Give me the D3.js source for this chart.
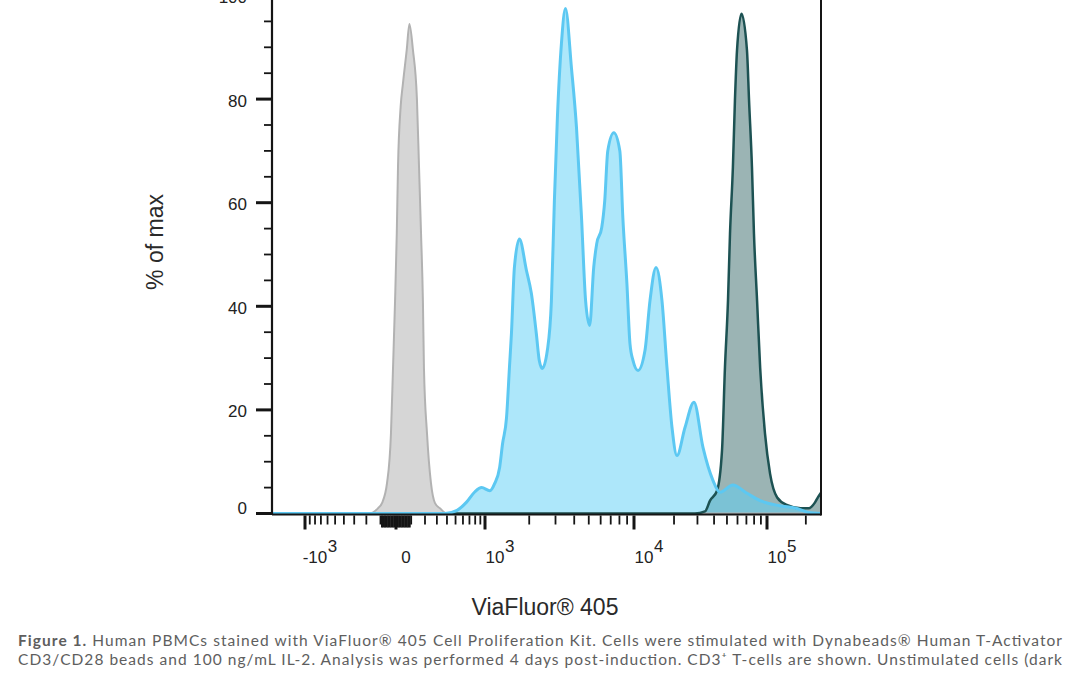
<!DOCTYPE html>
<html>
<head>
<meta charset="utf-8">
<script src="https://cdn.jsdelivr.net/npm/d3@7"></script>
<style>
  html, body { margin: 0; padding: 0; background: #ffffff; }
  svg { display: block; }
</style>
</head>
<body>
<script>
// ---------------- DATA ----------------
// Fluorescence (ViaFluor 405) values and % of max for each histogram
const grayX = [-2040, -180, -117, -90, -57, -32, -19, -6, 5, 13, 30, 45, 70, 88, 112, 140, 155, 170, 184, 192, 216, 248, 283, 329, 400, 262144];
const grayY = [0, 0, 1, 2, 5.9, 15.4, 28, 41, 54, 67, 78.5, 83, 89.5, 94.5, 89.5, 80, 67, 54, 41, 28, 15.4, 5.9, 2, 1, 0, 0];

const blueX = [-2040, 381, 519, 654, 795, 927, 1080, 1167, 1261, 1321, 1405, 1471, 1517, 1589, 1718, 1913, 2067, 2233, 2338, 2448, 2646, 2816, 2949, 3088, 3286, 3497, 3834, 4142, 4474, 4762, 5068, 5394, 5649, 6100, 6388, 6690, 7340, 8050, 8430, 8970, 9400, 9855, 10720, 12100, 13190, 14640, 16230, 17700, 19310, 21050, 24180, 28240, 33050, 39220, 44300, 55400, 70700, 88800, 125200, 168000, 210000, 262144];
const blueY = [0, 0, 0.6, 2.2, 4.2, 5.0, 4.4, 5.8, 8.9, 13.5, 18.5, 28.2, 34.7, 47.5, 53, 47, 42.5, 34.7, 29.5, 28, 31.5, 41, 60.4, 76.4, 90.7, 97.5, 86, 74.5, 57.1, 41.1, 36.3, 47.5, 52.1, 55.2, 60.4, 70, 73.5, 70, 57.1, 44.4, 32.8, 29.5, 27.6, 31.5, 41.1, 47.5, 41.1, 28.2, 16.6, 11.2, 16.6, 21.5, 12.7, 6.4, 4.1, 5.5, 3.9, 2.5, 1.5, 1, 0.2, 0];

const tealX = [-2040, 28700, 34200, 37300, 42100, 45900, 48300, 50900, 52700, 55400, 57400, 59500, 64300, 70700, 73300, 77100, 79800, 84200, 88800, 96600, 105600, 119900, 143900, 182300, 210800, 235000, 248000, 262144];
const tealY = [0, 0, 0.4, 2.5, 4.4, 12.2, 28.2, 41.1, 54, 66.8, 79.7, 89.4, 96.5, 89.4, 79.7, 66.8, 54, 41.1, 28.2, 15.4, 7.7, 3.1, 1.6, 1, 1, 2.1, 3.1, 4];

// Axis ticks
const yMajorTicks = [0, 20, 40, 60, 80, 100];
const xMajorTicks = [-1000, 0, 1000, 10000, 100000];
const xTickBase = ["-10", "0", "10", "10", "10"];
const xTickExp = ["3", "", "3", "4", "5"];

const xTitle = "ViaFluor® 405";
const yTitle = "% of max";
const captionBold = "Figure 1.";
const captionLine1 = " Human PBMCs stained with ViaFluor® 405 Cell Proliferation Kit. Cells were stimulated with Dynabeads® Human T-Activator";
const captionLine2 = "CD3/CD28 beads and 100 ng/mL IL-2. Analysis was performed 4 days post-induction. CD3⁺ T-cells are shown. Unstimulated cells (dark";

// ---------------- SCALES ----------------
const W = 1080, H = 675;
const left = 272, right = 821, bottom = 513.5;
const cof = 300;
const T = v => Math.asinh(v / cof);           // biexponential-like transform
const xBreaks = [-2040, -1000, 0, 1000, 10000, 100000, 262144];
const xPix = [left, 305, 396, 485, 634, 767, right];
const xs = d3.scaleLinear().domain(xBreaks.map(T)).range(xPix);
const X = v => xs(T(v));
const Y = d3.scaleLinear().domain([0, 100]).range([bottom, -4.5]);

const svg = d3.select("body").append("svg").attr("width", W).attr("height", H);

svg.append("defs").append("clipPath").attr("id", "plotclip")
  .append("rect").attr("x", left).attr("y", -20).attr("width", right - left).attr("height", bottom + 21);

const zip = (xa, ya) => xa.map((v, i) => ({ x: v, y: ya[i] }));
const area = d3.area().x(d => X(d.x)).y0(Y(0)).y1(d => Y(d.y)).curve(d3.curveMonotoneX);
const line = d3.line().x(d => X(d.x)).y(d => Y(d.y)).curve(d3.curveMonotoneX);

const plot = svg.append("g").attr("clip-path", "url(#plotclip)");

const series = [
  { data: zip(grayX, grayY), fill: "#d6d6d6", fop: 1, stroke: "#b2b2b2", sw: 2 },
  { data: zip(tealX, tealY), fill: "#3f6f70", fop: 0.52, stroke: "#1d5253", sw: 2.5 },
  { data: zip(blueX, blueY), fill: "#5ccff5", fop: 0.5, stroke: "#5cc8f2", sw: 3 }
];
series.forEach(s => {
  plot.append("path").datum(s.data).attr("d", area)
    .attr("fill", s.fill).attr("fill-opacity", s.fop).attr("stroke", "none");
});
series.forEach(s => {
  plot.append("path").datum(s.data).attr("d", line)
    .attr("fill", "none").attr("stroke", s.stroke).attr("stroke-width", s.sw)
    .attr("stroke-linejoin", "round");
});

// ---------------- AXES ----------------
const ink = "#151515";
const axes = svg.append("g");
// frame: left axis, bottom axis, right border
axes.append("line").attr("x1", left).attr("x2", left).attr("y1", -10).attr("y2", bottom + 1.5)
  .attr("stroke", ink).attr("stroke-width", 2.2);
axes.append("line").attr("x1", left).attr("x2", right).attr("y1", bottom + 1).attr("y2", bottom + 1)
  .attr("stroke", ink).attr("stroke-width", 2);
axes.append("line").attr("x1", right).attr("x2", right).attr("y1", -10).attr("y2", bottom + 2)
  .attr("stroke", ink).attr("stroke-width", 2);

// y ticks
const yMinor = d3.range(5, 100, 5).filter(v => !yMajorTicks.includes(v));
axes.selectAll(".ymin").data(yMinor).enter().append("line")
  .attr("x1", left - 8).attr("x2", left).attr("y1", d => Y(d)).attr("y2", d => Y(d))
  .attr("stroke", ink).attr("stroke-width", 1.8);
axes.selectAll(".ymaj").data(yMajorTicks).enter().append("line")
  .attr("x1", left - 16).attr("x2", left).attr("y1", d => Y(d)).attr("y2", d => Y(d))
  .attr("stroke", ink).attr("stroke-width", 3);
axes.selectAll(".ylab").data(yMajorTicks).enter().append("text")
  .attr("x", 247).attr("y", d => Y(d) + (d === 0 ? 0.6 : 7.4))
  .attr("text-anchor", "end")
  .attr("font-family", "'Liberation Sans', Arial, sans-serif").attr("font-size", 17)
  .attr("fill", "#222").text(d => d);

// x ticks
const xMinor = [];
for (let k = 1; k <= 9; k++) { xMinor.push(-k * 100, k * 100); }
for (let k = 2; k <= 9; k++) { xMinor.push(k * 1000, k * 10000); }
xMinor.push(200000);
const xTens = [];
for (let k = 1; k <= 9; k++) { xTens.push(-k * 10, k * 10); }
const xTop = bottom + 2;
axes.selectAll(".xmin").data(xMinor).enter().append("line")
  .attr("x1", d => X(d)).attr("x2", d => X(d)).attr("y1", xTop).attr("y2", xTop + 9)
  .attr("stroke", ink).attr("stroke-width", 1.8);
axes.selectAll(".xten").data(xTens).enter().append("line")
  .attr("x1", d => X(d)).attr("x2", d => X(d)).attr("y1", xTop).attr("y2", xTop + 12)
  .attr("stroke", ink).attr("stroke-width", 2);
axes.selectAll(".xmaj").data(xMajorTicks).enter().append("line")
  .attr("x1", d => X(d)).attr("x2", d => X(d)).attr("y1", xTop).attr("y2", xTop + 14)
  .attr("stroke", ink).attr("stroke-width", 3);

const lab = axes.selectAll(".xlab").data(xMajorTicks).enter().append("g");
lab.each(function (d, i) {
  const g = d3.select(this);
  const cx = X(d) + 10;
  const base = g.append("text").attr("x", cx).attr("y", 563).attr("text-anchor", "middle")
    .attr("font-family", "'Liberation Sans', Arial, sans-serif").attr("font-size", 17)
    .attr("fill", "#222").text(xTickBase[i]);
  if (xTickExp[i]) {
    const w = base.node().getComputedTextLength();
    g.append("text").attr("x", cx + w / 2 + 0.5).attr("y", 551.5).attr("text-anchor", "start")
      .attr("font-family", "'Liberation Sans', Arial, sans-serif").attr("font-size", 17)
      .attr("fill", "#222").text(xTickExp[i]);
  }
});

// titles
svg.append("text").attr("x", 545).attr("y", 615).attr("text-anchor", "middle")
  .attr("font-family", "'Liberation Sans', Arial, sans-serif").attr("font-size", 23)
  .attr("fill", "#2a2a2a").text(xTitle);
svg.append("text").attr("transform", "translate(163,242) rotate(-90)").attr("text-anchor", "middle")
  .attr("font-family", "'Liberation Sans', Arial, sans-serif").attr("font-size", 23)
  .attr("fill", "#2a2a2a").text(yTitle);

// caption
const capFont = "Lato, 'Open Sans', sans-serif";
const c1 = svg.append("text").attr("x", 18).attr("y", 646)
  .attr("font-family", capFont).attr("font-size", 15.5).attr("fill", "#5e5e5e")
  .attr("textLength", 1044).attr("lengthAdjust", "spacing");
c1.append("tspan").attr("font-weight", "bold").text(captionBold);
c1.append("tspan").text(captionLine1);
svg.append("text").attr("x", 18).attr("y", 665)
  .attr("font-family", capFont).attr("font-size", 15.5).attr("fill", "#5e5e5e")
  .attr("textLength", 1044).attr("lengthAdjust", "spacing")
  .text(captionLine2);
</script>
</body>
</html>
